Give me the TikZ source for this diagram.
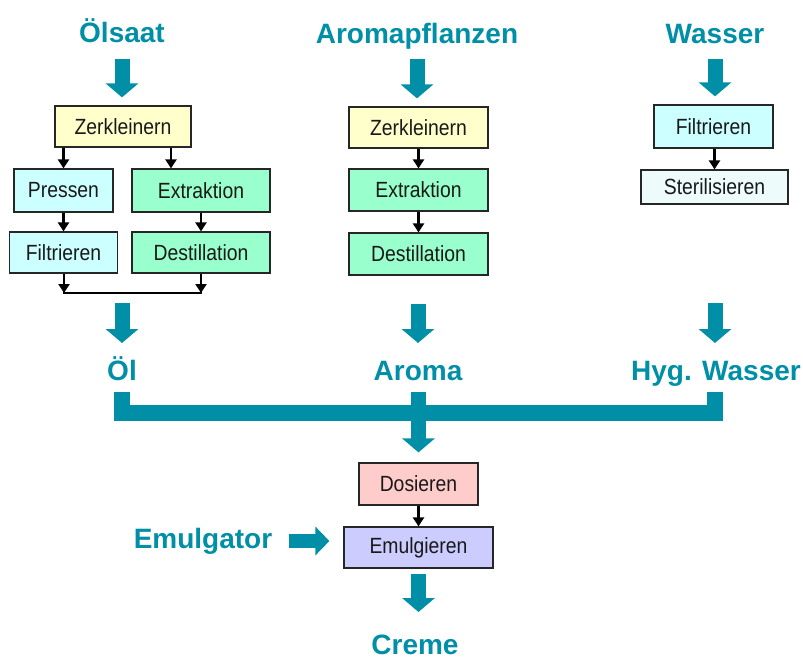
\documentclass[tikz,border=0pt]{standalone}
\usepackage{fontspec}
\setmainfont{Liberation Sans}
\newfontfamily\boxfont[FakeStretch=0.88]{Liberation Sans}
\usetikzlibrary{arrows.meta,calc}
\definecolor{teal}{RGB}{0,143,166}
\definecolor{cyellow}{HTML}{FFFFCC}
\definecolor{ccyan}{HTML}{CCFFFF}
\definecolor{cmint}{HTML}{99FFCC}
\definecolor{cpale}{HTML}{EEFBFB}
\definecolor{cpink}{HTML}{FFCCCC}
\definecolor{clila}{HTML}{CCCCFF}
\tikzset{
  title/.style={inner sep=0pt, anchor=base, text=teal, font=\bfseries\fontsize{28}{30}\selectfont},
  box/.style={draw=black!85, line width=1.2pt, inner sep=0pt, font=\boxfont\fontsize{22}{24}\selectfont, text=black!90},
  sarrow/.style={draw=black, line width=2.2pt, -{Triangle[width=11pt,length=9pt]}},
  sline/.style={draw=black, line width=2.2pt},
  bigarrow/.style={draw=teal, line width=15pt, -{Triangle[width=32pt,length=14pt]}},
  bigline/.style={draw=teal, line width=16pt, line join=miter},
}
\begin{document}
\begin{tikzpicture}[x=1pt,y=-1pt]
\useasboundingbox (0,0) rectangle (803,659);
% titles
\node[title] (t1) at (122,42) {Ölsaat};
\node[title] (t2) at (417,43) {Aromapflanzen};
\node[title] (t3) at (715,43) {Wasser};
% Ölsaat column
\node[box, fill=cyellow, minimum width=136pt, minimum height=41pt] (z1) at (123,126.5) {Zerkleinern};
\node[box, fill=ccyan, minimum width=99pt, minimum height=43pt] (pr) at (63.5,190.5) {Pressen};
\node[box, fill=cmint, minimum width=138pt, minimum height=43pt] (ex) at (201,190.5) {Extraktion};
\node[box, fill=ccyan, minimum width=108pt, minimum height=41pt] (fi) at (63.5,252.5) {Filtrieren};
\node[box, fill=cmint, minimum width=138pt, minimum height=41pt] (de) at (201,252.5) {Destillation};
\coordinate (j1) at (64,293);
\coordinate (j2) at (201,293);
% Aroma column
\node[box, fill=cyellow, minimum width=139pt, minimum height=41pt] (z2) at (418.5,127.5) {Zerkleinern};
\node[box, fill=cmint, minimum width=139pt, minimum height=42pt] (ex2) at (418.5,190) {Extraktion};
\node[box, fill=cmint, minimum width=139pt, minimum height=42pt] (de2) at (418.5,254) {Destillation};
% Wasser column
\node[box, fill=ccyan, minimum width=119pt, minimum height=43pt] (fw) at (713.5,126.5) {Filtrieren};
\node[box, fill=cpale, minimum width=147pt, minimum height=34pt] (st) at (714.5,187) {Sterilisieren};
% intermediate labels
\node[title] (ol) at (122,380) {Öl};
\node[title] (ar) at (418,380) {Aroma};
\node[title] (hw) at (716,380) {Hyg. Wasser};
% bottom
\node[box, fill=cpink, minimum width=119pt, minimum height=42pt] (do) at (418.5,484) {Dosieren};
\node[box, fill=clila, minimum width=149pt, minimum height=41pt] (emu) at (418.5,547.5) {Emulgieren};
\node[title] (eg) at (203,548) {Emulgator};
\node[title] (cr) at (415,654) {Creme};
% big arrows from titles
\draw[bigarrow] ([yshift=-17pt]t1.base) -- ([yshift=8pt]z1.north -| t1.base);
\draw[bigarrow] ([yshift=-16pt]t2.base) -- ([yshift=8pt]z2.north -| t2.base);
\draw[bigarrow] ([yshift=-16pt]t3.base) -- ([yshift=8pt]fw.north -| t3.base);
% small arrows Ölsaat
\draw[sarrow] (pr.north |- z1.south) -- (pr.north);
\draw[sarrow] ([xshift=-30pt]ex.north |- z1.south) -- ([xshift=-30pt]ex.north);
\draw[sarrow] (pr.south) -- (fi.north -| pr.south);
\draw[sarrow] (ex.south) -- (de.north);
\draw[sarrow] (fi.south -| j1) -- (j1);
\draw[sarrow] (de.south) -- (j2);
\draw[sline] ([xshift=-1.1pt]j1) -- ([xshift=1.1pt]j2);
% small arrows Aroma
\draw[sarrow] (z2.south) -- (ex2.north);
\draw[sarrow] (ex2.south) -- (de2.north);
% small arrow Wasser
\draw[sarrow] (fw.south -| st.north) -- (st.north);
% big arrows to intermediate
\draw[bigarrow] ([yshift=77pt]ol.base) -- ([yshift=37pt]ol.base);
\draw[bigarrow] ([yshift=-28pt]de2.south -| ar.base) -- ([yshift=37pt]ar.base);
\draw[bigarrow] ([yshift=77pt]hw.base -| 715,0) -- ([yshift=37pt]hw.base -| 715,0);
% collecting bracket
\draw[bigline] ([yshift=-12pt]ol.base) -- ([yshift=-33pt]ol.base) -- ([yshift=-33pt]hw.base -| 715,0) -- ([yshift=-12pt]hw.base -| 715,0);
\draw[draw=teal, line width=15pt] ([yshift=-12pt]ar.base -| do.north) -- ([yshift=-30pt]ar.base -| do.north);
\draw[bigarrow] ([yshift=-28pt]ar.base -| do.north) -- ([yshift=10pt]do.north);
% bottom arrows
\draw[sarrow] (do.south) -- (emu.north);
\coordinate (ea) at ([xshift=17pt,yshift=7pt]eg.base east);
\coordinate (ee) at ([xshift=-14pt]emu.west);
\draw[draw=teal, line width=14pt, -{Triangle[width=28pt,length=14pt]}] (ea) -- (ea -| ee);
\draw[bigarrow] ([yshift=-5pt]emu.south) -- ([yshift=42pt]cr.base -| emu.south);
\end{tikzpicture}
\end{document}
